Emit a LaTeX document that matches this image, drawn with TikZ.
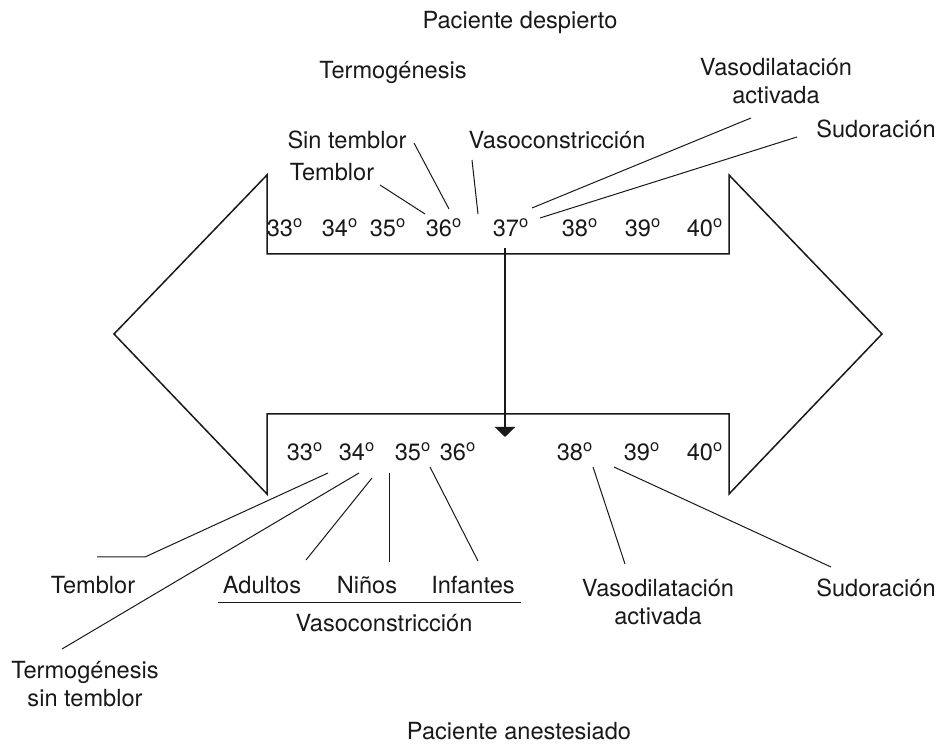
\documentclass[tikz,border=0pt]{standalone}
\usepackage{fontspec}
\setmainfont{TeX Gyre Heros}
\usepackage{tikz}
\usetikzlibrary{arrows.meta}
\tikzset{
  lbl/.style   = {inner sep=0pt, align=center, text=black!90,
                  font=\fontsize{11.8}{14}\selectfont},
  temp/.style  = {lbl},
  outline/.style = {line width=0.75pt, line join=miter, black!90},
  lead/.style  = {line width=0.5pt, black!90},
  down/.style  = {-{Triangle[length=5pt,width=10pt]}, line width=1.4pt, black!90},
}
\begin{document}
\begin{tikzpicture}[x=0.5pt,y=-0.5pt]
\useasboundingbox (0,0) rectangle (939,747);
% double arrow outline
\draw[outline] (267,175) -- (267,254) -- (729,254) -- (729,175) -- (882,334)
  -- (729,494) -- (729,414) -- (267,414) -- (267,494) -- (114,334) -- cycle;
% awake patient
\node[lbl] (awake) at (520,22) {Paciente despierto};
\node[lbl] (thermTop) at (393,72) {Termogénesis};
\node[lbl] (nonShivTop) at (347,140) {Sin temblor};
\node[lbl] (shivTop) at (332,172) {Temblor};
\node[lbl] (vconTop) at (557,140) {Vasoconstricción};
\node[lbl] (vdilTop) at (776,81) {Vasodilatación\\activada};
\node[lbl] (sweatTop) at (876,129) {Sudoración};
\foreach \t/\x in {33/285,34/340,35/388,36/444,37/511,38/580,39/643,40/705}
  \node[temp] (up\t) at (\x,228) {\t\textsuperscript{o}};
% anesthetized patient
\foreach \t/\x in {33/305,34/357,35/413,36/458,38/575,39/642,40/705}
  \node[temp] (lo\t) at (\x,452) {\t\textsuperscript{o}};
\node[lbl] (shivBot) at (93,585) {Temblor};
\node[lbl] (thermBot) at (85,684) {Termogénesis\\sin temblor};
\node[lbl] (adults) at (262,585) {Adultos};
\node[lbl] (kids) at (367,585) {Niños};
\node[lbl] (infants) at (473,585) {Infantes};
\node[lbl] (vconBot) at (384,623) {Vasoconstricción};
\node[lbl] (vdilBot) at (658,602) {Vasodilatación\\activada};
\node[lbl] (sweatBot) at (876,588) {Sudoración};
\node[lbl] (anest) at (519,731) {Paciente anestesiado};
% leader ends
\coordinate (a1) at (380,185); \coordinate (a2) at (425,214);
\coordinate (b1) at (414,143); \coordinate (b2) at (449,209);
\coordinate (c1) at (472,160); \coordinate (c2) at (478,214);
\coordinate (d1) at (751,118); \coordinate (d2) at (532,208);
\coordinate (e1) at (797,137); \coordinate (e2) at (540,218);
\coordinate (f1) at (328,473); \coordinate (f2) at (145,557); \coordinate (f3) at (97,557);
\coordinate (g1) at (359,473); \coordinate (g2) at (62,649);
\coordinate (h1) at (372,478); \coordinate (h2) at (306,560);
\coordinate (i1) at (389,473); \coordinate (i2) at (389,562);
\coordinate (j1) at (430,467); \coordinate (j2) at (478,561);
\coordinate (k1) at (593,467); \coordinate (k2) at (625,564);
\coordinate (m1) at (614,467); \coordinate (m2) at (831,567);
\coordinate (u1) at (218,603); \coordinate (u2) at (521,603);
\draw[lead] (a1) -- (a2);
\draw[lead] (b1) -- (b2);
\draw[lead] (c1) -- (c2);
\draw[lead] (d1) -- (d2);
\draw[lead] (e1) -- (e2);
\draw[lead] (f1) -- (f2) -- (f3);
\draw[lead] (g1) -- (g2);
\draw[lead] (h1) -- (h2);
\draw[lead] (i1) -- (i2);
\draw[lead] (j1) -- (j2);
\draw[lead] (k1) -- (k2);
\draw[lead] (m1) -- (m2);
\draw[lead] (u1) -- (u2);
% shift from awake to anesthetized
\coordinate (shiftTop) at (505,248);
\coordinate (shiftEnd) at (505,437);
\draw[down] (shiftTop) -- (shiftEnd);
\end{tikzpicture}
\end{document}
